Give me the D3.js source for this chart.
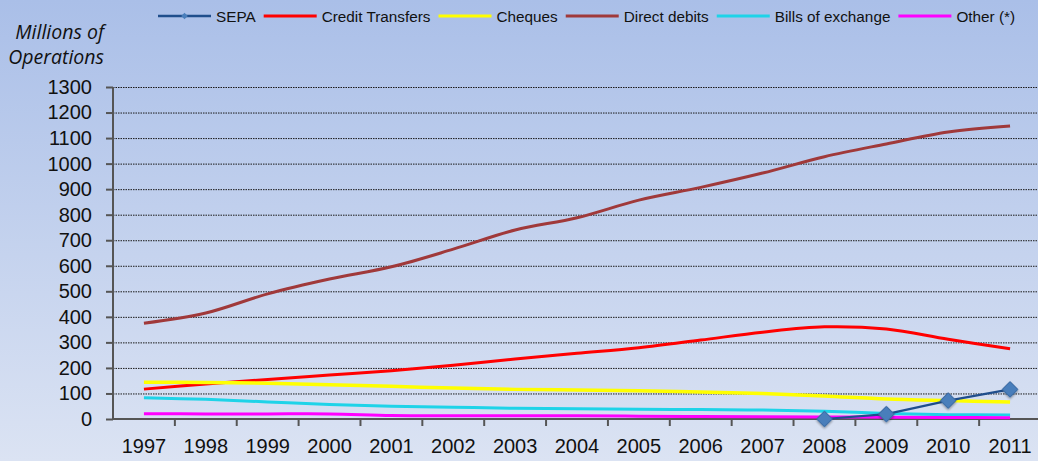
<!DOCTYPE html>
<html>
<head>
<meta charset="utf-8">
<script src="https://cdn.jsdelivr.net/npm/d3@7"></script>
<style>
  html, body { margin: 0; padding: 0; background: #c4d2ee; }
  svg { display: block; }
</style>
</head>
<body>
<svg id="chart" width="1038" height="461"></svg>
<script>
// Payment operations by instrument, millions of operations per year
const years = ["1997","1998","1999","2000","2001","2002","2003","2004","2005","2006","2007","2008","2009","2010","2011"];
const sepa            = [null,null,null,null,null,null,null,null,null,null,null,0,19,72,116];
const creditTransfers = [117,137,155,172,189,210,235,257,279,309,340,361,352,312,275];
const cheques         = [144,143,140,134,128,121,116,114,111,106,100,90,78,72,67];
const directDebits    = [375,415,490,548,596,665,740,788,857,907,963,1027,1077,1124,1147];
const billsOfExchange = [83,77,67,57,50,46,42,40,38,37,35,30,22,17,16];
const other           = [21,20,20,20,14,13,13,13,11,10,9,8,7,6,5];
const yTicks = [0,100,200,300,400,500,600,700,800,900,1000,1100,1200,1300];

const series = [
  { name: "SEPA",              values: sepa,            color: "#1f4e8c", width: 2.2, smooth: false, marker: true },
  { name: "Credit Transfers",  values: creditTransfers, color: "#ff0000", width: 3,   smooth: true },
  { name: "Cheques",           values: cheques,         color: "#ffff00", width: 3.5, smooth: true },
  { name: "Direct debits",     values: directDebits,    color: "#a0393a", width: 3,   smooth: true },
  { name: "Bills of exchange", values: billsOfExchange, color: "#1ed3e8", width: 3,   smooth: true },
  { name: "Other (*)",         values: other,           color: "#ff00ff", width: 3,   smooth: true }
];

const W = 1038, H = 461;
const svg = d3.select("#chart");
const defs = svg.append("defs");

// soft vertical background wash
const bg = defs.append("linearGradient").attr("id", "bg").attr("x1", 0).attr("y1", 0).attr("x2", 0).attr("y2", 1);
bg.append("stop").attr("offset", "0%").attr("stop-color", "#aabfe8");
bg.append("stop").attr("offset", "100%").attr("stop-color", "#dbe3f3");
svg.append("rect").attr("width", W).attr("height", H).attr("fill", "url(#bg)");

const shadow = defs.append("filter").attr("id", "shadow").attr("x", "-50%").attr("y", "-50%").attr("width", "200%").attr("height", "200%");
shadow.append("feDropShadow").attr("dx", 1).attr("dy", 1).attr("stdDeviation", 1).attr("flood-color", "#000").attr("flood-opacity", 0.35);

const x0 = 113, x1 = 1041, yTop = 87, yBot = 419;
const x = d3.scaleBand().domain(years).range([x0, x1]).padding(0);
const y = d3.scaleLinear().domain([0, 1300]).range([yBot, yTop]);
const cx = yr => x(yr) + x.bandwidth() / 2;

// horizontal dotted gridlines
svg.append("g").selectAll("line").data(yTicks.filter(t => t > 0)).join("line")
  .attr("x1", x0).attr("x2", W).attr("y1", d => y(d) + 0.5).attr("y2", d => y(d) + 0.5)
  .attr("stroke", "#1a1a1a").attr("stroke-width", 1).attr("stroke-dasharray", "1.5,1");

// y axis
const yAxis = svg.append("g").attr("transform", `translate(${x0},0)`)
  .call(d3.axisLeft(y).tickValues(yTicks).tickSize(7).tickPadding(14).tickFormat(d3.format("d")));
yAxis.select(".domain").attr("stroke", "#555").attr("stroke-width", 2).attr("d", `M0,${yTop}V${yBot}`);
yAxis.selectAll(".tick line").attr("stroke", "#555").attr("stroke-width", 2);
yAxis.selectAll(".tick text").attr("font-family", "Liberation Sans, Arial, sans-serif")
  .attr("font-size", 20).attr("fill", "#111");

// x axis: ticks on category boundaries, labels centred in each band
const xAxisG = svg.append("g").attr("transform", `translate(0,${yBot})`);
xAxisG.append("line").attr("x1", x0 - 1).attr("x2", W).attr("y1", 0).attr("y2", 0)
  .attr("stroke", "#555").attr("stroke-width", 2);
xAxisG.selectAll("line.tk").data(years.slice(1)).join("line").attr("class", "tk")
  .attr("x1", d => x(d)).attr("x2", d => x(d)).attr("y1", 0).attr("y2", 7)
  .attr("stroke", "#555").attr("stroke-width", 2);
xAxisG.selectAll("text").data(years).join("text")
  .attr("x", d => cx(d)).attr("y", 34).attr("text-anchor", "middle")
  .attr("font-family", "Liberation Sans, Arial, sans-serif").attr("font-size", 20).attr("fill", "#111")
  .text(d => d);

// axis title
const title = svg.append("text").attr("text-anchor", "end")
  .attr("font-family", "Open Sans, Lato, sans-serif").attr("font-style", "italic")
  .attr("font-size", 19.5).attr("fill", "#111");
title.append("tspan").attr("x", 104).attr("y", 39).text("Millions of");
title.append("tspan").attr("x", 104).attr("y", 64).text("Operations");

// series lines (drawn back to front, SEPA on top)
const order = [3, 1, 2, 4, 5, 0];
order.forEach(i => {
  const s = series[i];
  const pts = years.map((yr, k) => ({ yr, v: s.values[k] })).filter(p => p.v != null);
  const line = d3.line().x(p => cx(p.yr)).y(p => y(p.v))
    .curve(s.smooth ? d3.curveCatmullRom.alpha(0.5) : d3.curveLinear);
  svg.append("path").datum(pts).attr("d", line)
    .attr("fill", "none").attr("stroke", s.color).attr("stroke-width", s.width)
    .attr("stroke-linejoin", "round");
  if (s.marker) {
    svg.append("g").selectAll("path").data(pts).join("path")
      .attr("d", d3.symbol(d3.symbolSquare, 120)())
      .attr("transform", p => `translate(${cx(p.yr)},${y(p.v)}) rotate(45)`)
      .attr("fill", "#4a7ebb").attr("stroke", "#3b6aa3").attr("stroke-width", 1)
      .attr("filter", "url(#shadow)");
  }
});

// legend across the top
const legend = svg.append("g").attr("font-family", "Liberation Sans, Arial, sans-serif").attr("font-size", 15.3);
let lx = 158;
const ly = 16;
series.forEach(s => {
  const g = legend.append("g");
  g.append("line").attr("x1", lx).attr("x2", lx + 53).attr("y1", ly).attr("y2", ly)
    .attr("stroke", s.color).attr("stroke-width", s.name === "SEPA" ? 2.5 : 3);
  if (s.marker) {
    g.append("path").attr("d", d3.symbol(d3.symbolSquare, 22)())
      .attr("transform", `translate(${lx + 26.5},${ly}) rotate(45)`)
      .attr("fill", "#4a7ebb");
  }
  const t = g.append("text").attr("x", lx + 58).attr("y", ly + 5.5).attr("fill", "#111").text(s.name);
  lx = lx + 58 + t.node().getComputedTextLength() + 8;
});
</script>
</body>
</html>
